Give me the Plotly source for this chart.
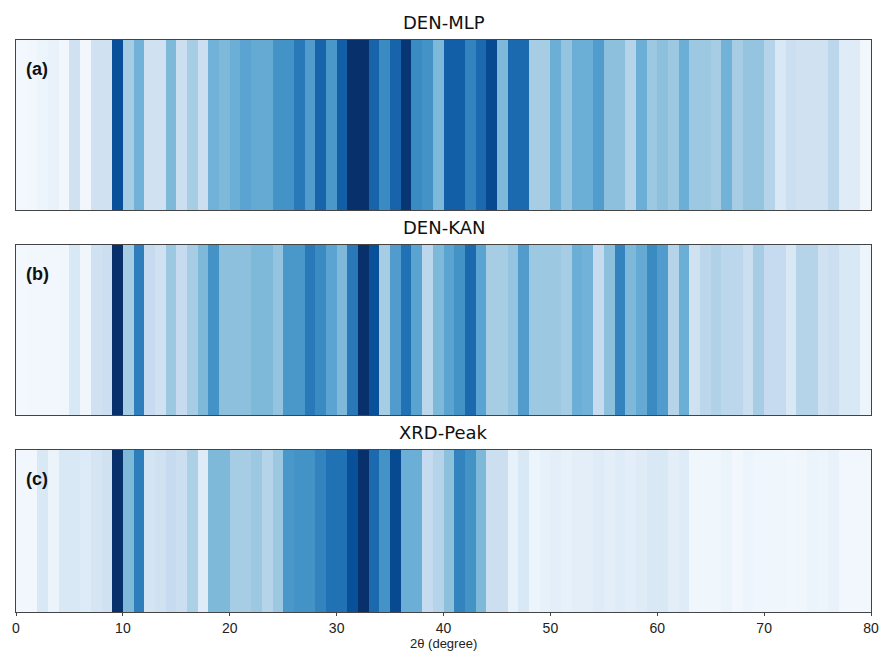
import plotly.graph_objects as go

# 2θ bins (1-degree wide, 0..80)
two_theta = [i + 0.5 for i in range(80)]

den_mlp = [
    0.02, 0.03, 0.05, 0.07, 0.03, 0.20, 0.03, 0.20, 0.20, 0.88,
    0.35, 0.48, 0.20, 0.20, 0.45, 0.22, 0.35, 0.22, 0.48, 0.45,
    0.50, 0.55, 0.52, 0.52, 0.62, 0.62, 0.72, 0.58, 0.80, 0.60,
    0.82, 1.00, 1.00, 0.80, 0.65, 0.80, 0.98, 0.65, 0.62, 0.45,
    0.82, 0.82, 0.68, 0.78, 0.90, 0.45, 0.78, 0.78, 0.35, 0.35,
    0.50, 0.40, 0.50, 0.50, 0.58, 0.42, 0.42, 0.30, 0.50, 0.38,
    0.42, 0.38, 0.50, 0.38, 0.38, 0.35, 0.48, 0.35, 0.40, 0.40,
    0.30, 0.15, 0.22, 0.20, 0.20, 0.20, 0.28, 0.12, 0.12, 0.03,
]

den_kan = [
    0.02, 0.03, 0.03, 0.03, 0.04, 0.15, 0.04, 0.20, 0.22, 1.00,
    0.35, 0.70, 0.25, 0.20, 0.38, 0.25, 0.35, 0.45, 0.62, 0.42,
    0.42, 0.42, 0.45, 0.45, 0.40, 0.60, 0.60, 0.72, 0.65, 0.55,
    0.45, 0.72, 1.00, 0.88, 0.35, 0.58, 0.75, 0.55, 0.28, 0.45,
    0.55, 0.62, 0.78, 0.55, 0.35, 0.35, 0.40, 0.58, 0.38, 0.38,
    0.38, 0.35, 0.50, 0.48, 0.25, 0.42, 0.68, 0.45, 0.52, 0.65,
    0.58, 0.30, 0.50, 0.20, 0.28, 0.32, 0.28, 0.28, 0.22, 0.35,
    0.25, 0.25, 0.15, 0.30, 0.30, 0.20, 0.22, 0.15, 0.15, 0.05,
]

xrd_peak = [
    0.03, 0.03, 0.15, 0.06, 0.15, 0.15, 0.13, 0.17, 0.20, 1.00,
    0.45, 0.70, 0.18, 0.20, 0.25, 0.22, 0.33, 0.12, 0.45, 0.45,
    0.35, 0.35, 0.38, 0.30, 0.38, 0.60, 0.62, 0.62, 0.68, 0.75,
    0.75, 0.88, 1.00, 0.78, 0.62, 0.90, 0.50, 0.50, 0.25, 0.30,
    0.42, 0.68, 0.62, 0.45, 0.22, 0.22, 0.08, 0.15, 0.05, 0.08,
    0.10, 0.08, 0.10, 0.10, 0.12, 0.10, 0.12, 0.10, 0.12, 0.15,
    0.15, 0.10, 0.12, 0.04, 0.04, 0.04, 0.06, 0.03, 0.05, 0.04,
    0.04, 0.04, 0.03, 0.04, 0.06, 0.05, 0.07, 0.03, 0.03, 0.03,
]

titles = ["DEN-MLP", "DEN-KAN", "XRD-Peak"]
panel_labels = ["(a)", "(b)", "(c)"]
tick_vals = [0, 10, 20, 30, 40, 50, 60, 70, 80]
tick_text = ["0", "10", "20", "30", "40", "50", "60", "70", "80"]

blues = [
    [0.0, "rgb(247,251,255)"], [0.125, "rgb(222,235,247)"],
    [0.25, "rgb(198,219,239)"], [0.375, "rgb(158,202,225)"],
    [0.5, "rgb(107,174,214)"], [0.625, "rgb(66,146,198)"],
    [0.75, "rgb(33,113,181)"], [0.875, "rgb(8,81,156)"],
    [1.0, "rgb(8,48,107)"],
]

W, H = 891, 651
ML, MR, MT, MB = 14, 13, 40, 39
plot_h = H - MT - MB
# panel pixel extents (top, bottom)
panels_px = [(40, 210), (245, 415), (450, 612)]

narrow = "Liberation Sans Narrow, Liberation Sans, Arial, sans-serif"


def py(p):
    return (H - MB - p) / plot_h


fig = go.Figure()
series = [den_mlp, den_kan, xrd_peak]
frame = "#444444"
for i, vals in enumerate(series):
    n = "" if i == 0 else str(i + 1)
    fig.add_trace(go.Heatmap(
        x=two_theta, y=[0], z=[vals], zmin=0, zmax=1,
        colorscale=blues, showscale=False,
        xaxis="x" + n, yaxis="y" + n, hoverinfo="x+z",
    ))
    top, bot = panels_px[i]
    last = i == 2
    fig.layout["xaxis" + n] = dict(
        domain=[0, 1], anchor="y" + n, range=[0, 80],
        showline=True, linecolor=frame, linewidth=1, mirror=True,
        showgrid=False, zeroline=False,
        tickvals=tick_vals, ticktext=tick_text,
        showticklabels=last, ticks="outside" if last else "",
        ticklen=3, tickcolor=frame,
        tickfont=dict(family=narrow, size=14, color="#222"),
    )
    fig.layout["yaxis" + n] = dict(
        domain=[py(bot), py(top)], anchor="x" + n, range=[-0.5, 0.5],
        showline=True, linecolor=frame, linewidth=1, mirror=True,
        showgrid=False, zeroline=False, showticklabels=False, ticks="",
    )
    fig.add_annotation(
        x=0.5, xref="paper", y=py(top), yref="paper", yshift=5,
        text=titles[i], showarrow=False, xanchor="center", yanchor="bottom",
        font=dict(family="DejaVu Sans, sans-serif", size=18, color="#111"),
    )
    fig.add_annotation(
        x=0, xref="paper", y=py(top), yref="paper", xshift=8, yshift=-17,
        text="<b>" + panel_labels[i] + "</b>", showarrow=False,
        xanchor="left", yanchor="top",
        font=dict(family="Liberation Sans, Arial, sans-serif", size=18, color="#111"),
    )

fig.add_annotation(
    x=0.5, xref="paper", y=0, yref="paper", yshift=-22,
    text="2θ (degree)", showarrow=False, xanchor="center", yanchor="top",
    font=dict(family=narrow, size=13, color="#222"),
)

fig.update_layout(
    width=W, height=H,
    margin=dict(l=ML, r=MR, t=MT, b=MB),
    paper_bgcolor="white", plot_bgcolor="white",
    showlegend=False,
)

fig.write_html(
    "out.html",
    config={"displayModeBar": False},
    post_script="document.body.style.margin='0px';document.body.style.padding='0px';",
)
